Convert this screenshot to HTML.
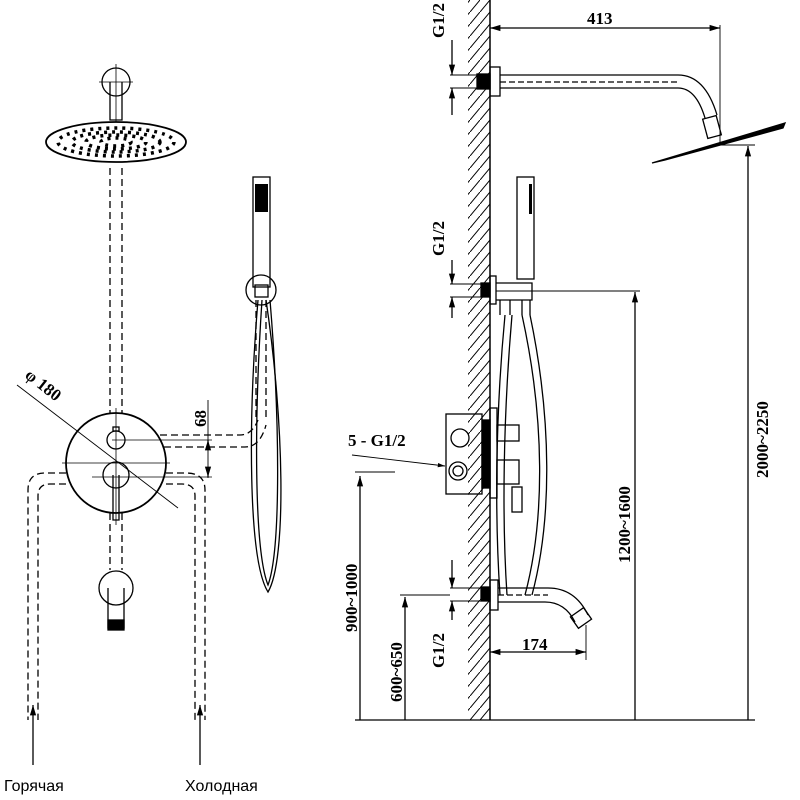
<!DOCTYPE html>
<html><head><meta charset="utf-8"><style>
html,body{margin:0;padding:0;background:#fff;width:800px;height:800px;overflow:hidden}
svg{display:block}
.b{font-family:"Liberation Serif",serif;font-weight:bold;font-size:17px;fill:#000}
.s{font-family:"Liberation Sans",sans-serif;font-size:16px;fill:#000}
</style></head><body>
<svg width="800" height="800" viewBox="0 0 800 800" xmlns="http://www.w3.org/2000/svg">
<defs>
<pattern id="h" width="10" height="12" patternUnits="userSpaceOnUse">
<line x1="0" y1="12" x2="10" y2="0" stroke="#000" stroke-width="1"/>
</pattern>
<marker id="a" viewBox="0 0 10 10" refX="10" refY="5" markerWidth="8" markerHeight="8" orient="auto-start-reverse"><path d="M0,2 L10,5 L0,8 z" fill="#000"/></marker>
</defs>
<g fill="none" stroke="#000" stroke-width="1.3">
<!-- LEFT: shower head -->
<circle cx="116" cy="82" r="14"/>
<line x1="116" y1="64" x2="116" y2="122" stroke-width="0.8"/>
<line x1="99" y1="82" x2="133" y2="82" stroke-width="0.8"/>
<path d="M110,82 V120 H122 V82"/>
<ellipse cx="116" cy="142" rx="70" ry="20" stroke-width="1.8"/>
<g stroke="#000" stroke-width="3.5" stroke-dasharray="3 5">
<ellipse cx="116" cy="142" rx="58" ry="14"/>
<ellipse cx="116" cy="142" rx="44" ry="10"/>
<ellipse cx="116" cy="142" rx="30" ry="7"/>
<ellipse cx="116" cy="142" rx="15" ry="4"/>
</g>
<g stroke-dasharray="7 4">
<line x1="110" y1="168" x2="110" y2="413"/>
<line x1="122" y1="168" x2="122" y2="413"/>
<line x1="110" y1="513" x2="110" y2="570"/>
<line x1="122" y1="513" x2="122" y2="570"/>
<path d="M66,473 H45 Q28,473 28,490 V720"/>
<path d="M66,484 H50 Q38,484 38,496 V720"/>
<path d="M166,473 H186 Q205,473 205,490 V720"/>
<path d="M166,484 H182 Q195,484 195,496 V720"/>
<path d="M160,435 H240 Q252,435 258,420"/>
<path d="M164,447 H245 Q260,447 266,425"/>
<path d="M256,300 V420 M266,300 V420"/>
</g>
<!-- diverter -->
<circle cx="116" cy="463" r="50" stroke-width="1.8"/>
<circle cx="116" cy="440" r="9"/>
<rect x="113" y="427" width="6" height="4"/>
<circle cx="116" cy="475" r="13"/>
<path d="M113,475 V520 H119 V475"/>
<line x1="62" y1="463" x2="170" y2="463" stroke-width="0.8"/>
<line x1="116" y1="408" x2="116" y2="525" stroke-width="0.8"/>
<line x1="92" y1="477" x2="212" y2="477" stroke-width="0.8"/>
<line x1="112" y1="440" x2="212" y2="440" stroke-width="0.8"/>
<line x1="17" y1="385" x2="178" y2="508" stroke-width="0.9"/>
<line x1="208" y1="400" x2="208" y2="478" stroke-width="0.9"/>
<line x1="208" y1="447" x2="208" y2="440" marker-end="url(#a)"/>
<line x1="208" y1="470" x2="208" y2="477" marker-end="url(#a)"/>
<!-- spout -->
<circle cx="116" cy="588" r="17"/>
<path d="M108,588 V628 H124 V588"/>
<rect x="108" y="620" width="16" height="10" fill="#000"/>
<!-- hand shower -->
<rect x="253" y="177" width="17" height="110"/>
<rect x="255" y="184" width="13" height="28" fill="#000" stroke="none"/>
<circle cx="261" cy="290" r="15"/>
<rect x="255" y="285" width="13" height="12"/>
<path d="M258,300 C248,420 248,560 268,592 C287,560 284,420 266,300"/>
<path d="M262,300 C254,420 254,550 268,585 C281,550 280,420 270,300"/>
<line x1="33" y1="765" x2="33" y2="705" marker-end="url(#a)"/>
<line x1="200" y1="765" x2="200" y2="705" marker-end="url(#a)"/>

<!-- RIGHT: wall -->
<rect x="468" y="0" width="22" height="720" fill="url(#h)" stroke="none"/>
<line x1="490" y1="0" x2="490" y2="720" stroke-width="1.5"/>
<line x1="355" y1="720" x2="755" y2="720"/>
<rect x="490" y="67" width="10" height="29"/>
<rect x="477" y="74" width="13" height="15" fill="#000"/>
<path d="M500,75 H678 Q705,75 717,115"/>
<path d="M500,88 H678 Q696,88 705,118"/>
<line x1="500" y1="82" x2="678" y2="82" stroke-dasharray="6 3"/>
<rect x="705" y="117" width="14" height="20" transform="rotate(-15 712 127)"/>
<path d="M652,163 L785,123 L783,128 L665,160 Z" fill="#000"/>
<line x1="490" y1="28" x2="720" y2="28" marker-start="url(#a)" marker-end="url(#a)"/>
<line x1="720" y1="25" x2="720" y2="145" stroke-width="0.9"/>
<line x1="450" y1="75" x2="477" y2="75" stroke-width="0.9"/>
<line x1="450" y1="88" x2="477" y2="88" stroke-width="0.9"/>
<line x1="452" y1="40" x2="452" y2="75" marker-end="url(#a)"/>
<line x1="452" y1="115" x2="452" y2="88" marker-end="url(#a)"/>
<line x1="715" y1="145" x2="755" y2="145" stroke-width="0.9"/>
<line x1="748" y1="720" x2="748" y2="146" marker-end="url(#a)"/>
<rect x="517" y="177" width="17" height="102"/>
<rect x="529" y="184" width="3" height="30" fill="#000" stroke="none"/>
<rect x="490" y="276" width="6" height="28"/>
<rect x="481" y="283" width="9" height="14" fill="#000"/>
<path d="M496,283 H532 V300 H496"/>
<path d="M500,300 V315 M510,300 V315 M522,300 V315 M530,300 V315"/>
<path d="M505,315 C495,420 495,520 500,595"/>
<path d="M512,315 C503,420 502,520 507,595"/>
<path d="M522,315 C545,420 545,520 525,595"/>
<path d="M530,315 C552,420 552,520 532,595"/>
<line x1="496" y1="291" x2="640" y2="291" stroke-width="0.9"/>
<line x1="450" y1="284" x2="481" y2="284" stroke-width="0.9"/>
<line x1="450" y1="297" x2="481" y2="297" stroke-width="0.9"/>
<line x1="452" y1="260" x2="452" y2="284" marker-end="url(#a)"/>
<line x1="452" y1="318" x2="452" y2="297" marker-end="url(#a)"/>
<line x1="635" y1="720" x2="635" y2="292" marker-end="url(#a)"/>
<rect x="446" y="414" width="36" height="80"/>
<rect x="482" y="420" width="8" height="68" fill="#000"/>
<circle cx="460" cy="438" r="9"/>
<circle cx="458" cy="471" r="9"/>
<circle cx="458" cy="471" r="5"/>
<rect x="490" y="408" width="7" height="90"/>
<rect x="497" y="425" width="22" height="16"/>
<rect x="497" y="460" width="22" height="24"/>
<rect x="512" y="487" width="10" height="25"/>
<line x1="352" y1="455" x2="445" y2="466" marker-end="url(#a)" stroke-width="0.9"/>
<line x1="355" y1="472" x2="395" y2="472" stroke-width="0.9"/>
<line x1="360" y1="720" x2="360" y2="476" marker-end="url(#a)"/>
<rect x="490" y="580" width="8" height="30"/>
<rect x="481" y="587" width="9" height="14" fill="#000"/>
<path d="M498,588 H548 Q575,588 588,615"/>
<path d="M498,602 H545 Q565,602 575,622"/>
<line x1="498" y1="595" x2="548" y2="595" stroke-dasharray="6 3"/>
<rect x="573" y="611" width="16" height="14" transform="rotate(-35 581 618)"/>
<line x1="450" y1="588" x2="481" y2="588" stroke-width="0.9"/>
<line x1="450" y1="601" x2="481" y2="601" stroke-width="0.9"/>
<line x1="452" y1="560" x2="452" y2="588" marker-end="url(#a)"/>
<line x1="452" y1="620" x2="452" y2="601" marker-end="url(#a)"/>
<line x1="400" y1="595" x2="450" y2="595" stroke-width="0.9"/>
<line x1="405" y1="720" x2="405" y2="597" marker-end="url(#a)"/>
<line x1="586" y1="625" x2="586" y2="660" stroke-width="0.9"/>
<line x1="490" y1="652" x2="586" y2="652" marker-start="url(#a)" marker-end="url(#a)"/>
</g>
<text class="b" transform="translate(24,377) rotate(38)">φ 180</text>
<text class="b" transform="translate(206,427) rotate(-90)">68</text>
<text class="b" x="587" y="24">413</text>
<text class="b" transform="translate(444,38) rotate(-90)">G1/2</text>
<text class="b" transform="translate(444,256) rotate(-90)">G1/2</text>
<text class="b" transform="translate(444,668) rotate(-90)">G1/2</text>
<text class="b" x="348" y="446">5 - G1/2</text>
<text class="b" transform="translate(768,478) rotate(-90)">2000~2250</text>
<text class="b" transform="translate(630,563) rotate(-90)">1200~1600</text>
<text class="b" transform="translate(357,632) rotate(-90)">900~1000</text>
<text class="b" transform="translate(402,702) rotate(-90)">600~650</text>
<text class="b" x="522" y="650">174</text>
<text class="s" x="4" y="791">Горячая</text>
<text class="s" x="185" y="791">Холодная</text>
</svg>
</body></html>
